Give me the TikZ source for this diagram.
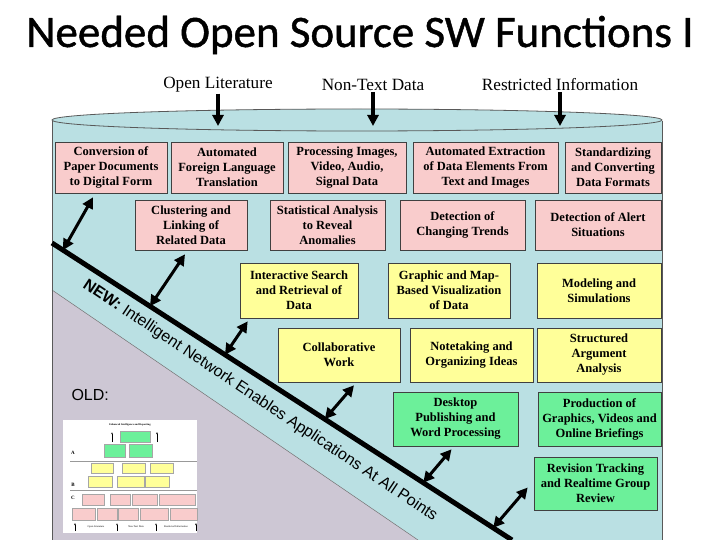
\documentclass[tikz,border=0pt]{standalone}
\usepackage{fontspec}
\setmainfont{Liberation Serif}
\newfontfamily\titlefont{Carlito}[FakeBold=1]
\newfontfamily\arialfont{Liberation Sans}
\usetikzlibrary{arrows.meta,
                calc}
\definecolor{cylblue}{HTML}{BAE0E3}
\definecolor{oldgray}{HTML}{CDC7D4}
\definecolor{boxpink}{HTML}{F9CCCC}
\definecolor{boxyellow}{HTML}{FFFF99}
\definecolor{boxgreen}{HTML}{6CF09A}
\tikzset{
        base/.style={draw=black!75, line width=0.6pt, align=center, inner sep=1pt,
                     font=\bfseries\fontsize{12.5}{15}\selectfont},
        pinkbox/.style={base, fill=boxpink},
        yellowbox/.style={base, fill=boxyellow},
        greenbox/.style={base, fill=boxgreen},
        srclabel/.style={font=\fontsize{17.2}{19}\selectfont, inner sep=1pt},
        dblarrow/.style={{Triangle[length=11pt,width=11pt]}-{Triangle[length=11pt,width=11pt]},
                         line width=3pt},
        downarrow/.style={-{Triangle[length=11pt,width=11pt]}, line width=3.2pt},
        minibox/.style={draw=black!35, line width=0.2pt},
        minitext/.style={font=\fontsize{2.6}{3}\selectfont, inner sep=0pt},
 }

\begin{document}
\begin{tikzpicture}[x=1pt, y=-1pt]
    \useasboundingbox (0,0) rectangle (720,540);
    \fill[white] (0,0) rectangle (720,540);

    \node[font=\titlefont\fontsize{45}{48}\selectfont] (title) at (360,35) {Needed Open Source SW Functions I};

    % cylinder
    \fill[cylblue] (52,121) rectangle (662,540);
    \fill[oldgray] (52,290) -- (418,540) -- (52,540) -- cycle;
    \draw[black!55, line width=0.5pt] (52,290) -- (418,540);
    \draw[black!65, line width=0.8pt] (52,121) -- (52,540);
    \draw[black!65, line width=0.8pt] (662,121) -- (662,540);
    \draw[black!65, line width=0.8pt, fill=cylblue] (357,120) ellipse [x radius=305, y radius=11];

    % sources
    \node[srclabel] (lit) at (218,85) {Open Literature};
    \node[srclabel] (nontext) at (373,85) {Non-Text Data};
    \node[srclabel] (restr) at (560,85) {Restricted Information};
    \coordinate (litin) at (218,126);
    \coordinate (nontextin) at (373,126);
    \coordinate (restrin) at (560,126);
    \draw[downarrow] (lit.south) -- (litin);
    \draw[downarrow] (nontext.south) -- (nontextin);
    \draw[downarrow] (restr.south) -- (restrin);

    % pink rows
    \node[pinkbox, minimum width=112, minimum height=51] (conv) at (111,167.5) {Conversion of\\Paper Documents\\to Digital Form};
    \node[pinkbox, minimum width=112, minimum height=51] (transl) at (227,167.5) {Automated\\Foreign Language\\Translation};
    \node[pinkbox, minimum width=118, minimum height=51] (images) at (347,167.5) {Processing Images,\\Video, Audio,\\Signal Data};
    \node[pinkbox, minimum width=145, minimum height=51] (extract) at (485.5,167.5) {Automated Extraction\\of Data Elements From\\Text and Images};
    \node[pinkbox, minimum width=96, minimum height=51] (formats) at (613,167.5) {Standardizing\\and Converting\\Data Formats};

    \node[pinkbox, minimum width=112, minimum height=50] (clust) at (191,225) {Clustering and\\Linking of\\Related Data};
    \node[pinkbox, minimum width=115, minimum height=50] (stats) at (327.5,225) {Statistical Analysis\\to Reveal\\Anomalies};
    \node[pinkbox, minimum width=125, minimum height=50] (trends) at (462.5,225) {Detection of\\Changing Trends};
    \node[pinkbox, minimum width=126, minimum height=50] (alert) at (598,225) {Detection of Alert\\Situations};

    % yellow rows
    \node[yellowbox, minimum width=118, minimum height=55] (search) at (299,290.5) {Interactive Search\\and Retrieval of\\Data};
    \node[yellowbox, minimum width=122, minimum height=55] (visual) at (449,290.5) {Graphic and Map-\\Based Visualization\\of Data};
    \node[yellowbox, minimum width=124, minimum height=55] (model) at (599,290.5) {Modeling and\\Simulations};

    \node[yellowbox, minimum width=122, minimum height=54] (collab) at (339,355) {Collaborative\\Work};
    \node[yellowbox, minimum width=123, minimum height=54] (notes) at (471.5,355) {Notetaking and\\Organizing Ideas};
    \node[yellowbox, minimum width=124, minimum height=54] (argue) at (599,355) {Structured\\Argument\\Analysis};

    % green rows
    \node[greenbox, minimum width=125, minimum height=54] (dtp) at (455.5,419) {Desktop\\Publishing and\\Word Processing};
    \node[greenbox, minimum width=123, minimum height=54] (prodn) at (599.5,419) {Production of\\Graphics, Videos and\\Online Briefings};
    \node[greenbox, minimum width=123, minimum height=53] (revis) at (595.5,483.5) {Revision Tracking\\and Realtime Group\\Review};

    % network line
    \coordinate (nwA) at (52,243);
    \coordinate (nwB) at (512,540);
    \draw[line width=5pt] (nwA) -- (nwB);
    \node[anchor=base west, rotate=-33.7, inner sep=0pt,
        font=\arialfont\fontsize{16}{18}\selectfont] (newtxt) at (82,287)
        {\textbf{NEW:} Intelligent Network Enables Applications At All Points};

    \draw[dblarrow] ($(nwA)!0.024!(nwB)$) -- ($(conv.south)+(-18,4)$);
    \draw[dblarrow] ($(nwA)!0.213!(nwB)$) -- ($(clust.south)+(-6,4)$);
    \draw[dblarrow] ($(nwA)!0.376!(nwB)$) -- ($(search.south west)+(8,3)$);
    \draw[dblarrow] ($(nwA)!0.593!(nwB)$) -- ($(collab.south)+(15,3)$);
    \draw[dblarrow] ($(nwA)!0.807!(nwB)$) -- ($(dtp.south)+(-4,3)$);
    \draw[dblarrow] ($(nwA)!0.959!(nwB)$) -- ($(revis.west)+(-6,4)$);

    \node[font=\arialfont\fontsize{16}{18}\selectfont, anchor=west] (old) at (68,395) {OLD:};

    % thumbnail of the old chart
    \fill[white] (63,420) rectangle (197,533);
    \node[minitext] (minititle) at (130,425) {\textbf{Enhanced Intelligence and Reporting}};
    \draw[minibox, fill=boxgreen] (120,431) rectangle (150,442);
    \draw[-{Latex[length=2pt]}, line width=0.6pt] (112,442) -- (112,432);
    \draw[-{Latex[length=2pt]}, line width=0.2pt] (157,442) -- (157,432);
    \foreach \xa/\xb in {104/125,129/152}
        \draw[minibox, fill=boxgreen] (\xa,444) rectangle (\xb,457);
    \draw[black!40, line width=0.3pt] (70,461) -- (197,461);
    \foreach \xa/\xb in {91/113,122/145,150/173}
        \draw[minibox, fill=boxyellow] (\xa,463) rectangle (\xb,473);
    \foreach \xa/\xb in {88/112,117/144,145/169}
        \draw[minibox, fill=boxyellow] (\xa,476) rectangle (\xb,487);
    \draw[black!40, line width=0.3pt] (70,490) -- (197,490);
    \foreach \xa/\xb in {82/104,110/130,132/157,159/195}
        \draw[minibox, fill=boxpink] (\xa,494) rectangle (\xb,505);
    \foreach \xa/\xb in {72/95,97/117,118/138,140/168,170/197}
        \draw[minibox, fill=boxpink] (\xa,508) rectangle (\xb,520);
    \node[font=\bfseries\fontsize{5}{5}\selectfont, inner sep=0pt] (minia) at (73,453) {A};
    \node[font=\bfseries\fontsize{5}{5}\selectfont, inner sep=0pt] (minib) at (73,485) {B};
    \node[font=\bfseries\fontsize{5}{5}\selectfont, inner sep=0pt] (minic) at (73,498) {C};
    \foreach \xx/\lw in {75/0.2,117/0.6,156/0.6,196/0.2}
        \draw[-{Latex[length=2pt]}, line width=\lw pt] (\xx,531) -- (\xx,523);
    \node[minitext] (minilit) at (96,527) {Open Literature};
    \node[minitext] (mininon) at (136,527) {Non-Text Data};
    \node[minitext] (minires) at (176,527) {Restricted Information};
\end{tikzpicture}
\end{document}
